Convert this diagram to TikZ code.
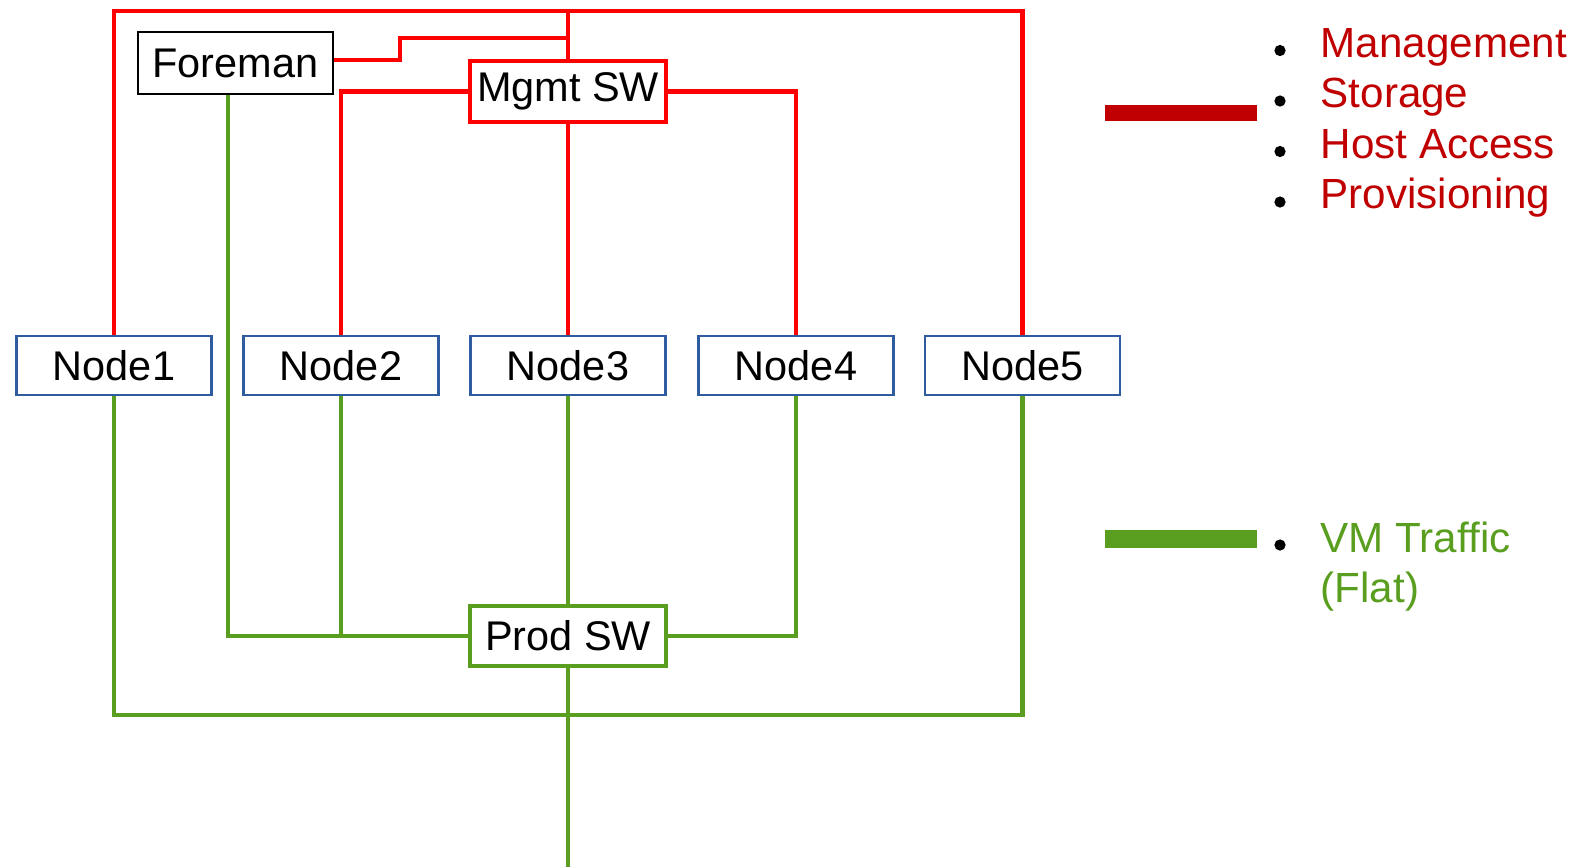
\documentclass[tikz,border=0pt]{standalone}
\usepackage{fontspec}
\setmainfont{Liberation Sans}
\usepackage{tikz}
\definecolor{mgmtred}{HTML}{FF0000}
\definecolor{legred}{HTML}{C00000}
\definecolor{vmgreen}{HTML}{5A9E1F}
\definecolor{nodeblue}{HTML}{2F5C9E}

\begin{document}
\begin{tikzpicture}[x=0.1mm, y=-0.1mm]
\tikzstyle{box} = [rectangle, inner sep = 0 pt, minimum width = 55.5 pt, minimum height = 16.8 pt, font = \fontsize{11.8}{14}\selectfont]
\tikzstyle{hostbox} = [box, draw = nodeblue, line width = 0.75 pt]
\tikzset{red link/.style={draw = mgmtred, line width = 1.15 pt}, green link/.style={draw = vmgreen, line width = 1.15 pt},
 legtext/.style={anchor = base west, inner sep = 0 pt, font = \fontsize{12}{14}\selectfont}}
\useasboundingbox (0,0) rectangle (1583,867);

% switches and the foreman host
\node [box, draw = black, line width = 0.65 pt, minimum height = 17.6 pt] (foreman) at (235.5,63) {Foreman};
\node [box, red link, minimum height = 17.3 pt] (mgmt) at (568,91.5) {Mgmt SW};
\node [box, green link, minimum height = 17 pt] (prod) at (568,636) {Prod SW};

% compute nodes
\foreach \x [count=\i] in {114, 341, 568, 796, 1022.5}
  \node [hostbox] (n\i) at (\x,365.5) {Node\i};

\coordinate (top) at (568,11);
\coordinate (fstep) at (400,38);
\coordinate (bottom) at (568,715);
\coordinate (uplink) at (568,867);

% management network
\draw [red link] (n1.north) |- (top) -| (n5.north);
\draw [red link] (mgmt.north) -- (top);
\draw [red link] (foreman.east |- 0,60) -| (fstep) -- (fstep -| top);
\draw [red link] (mgmt.west) -| (n2.north);
\draw [red link] (mgmt.east) -| (n4.north);
\draw [red link] (mgmt.south) -- (n3.north);

% vm traffic
\draw [green link] ([xshift=-2.1pt]foreman.south) |- (prod.west);
\draw [green link] (n2.south) -- (n2.south |- prod.west);
\draw [green link] (n3.south) -- (prod.north);
\draw [green link] (n4.south) |- (prod.east);
\draw [green link] (n1.south) |- (bottom) -| (n5.south);
\draw [green link] (prod.south) -- (uplink);

% legend
\draw [legred, line width = 4.6 pt] (1105,113) -- (1257,113);
\draw [vmgreen, line width = 5 pt] (1105,539) -- (1257,539);
\foreach \t [count=\i] in {Management, Storage, Host Access, Provisioning} {
  \node [legtext, text = legred] (leg\i) at (1320,{57+50.5*(\i-1)}) {\t};
  \fill (1280,{50.5+50.5*(\i-1)}) circle (1.6 pt);
}
\node [legtext, text = vmgreen] (vm1) at (1320,552) {VM Traffic};
\node [legtext, text = vmgreen] (vm2) at (1320,602) {(Flat)};
\fill (1280,545) circle (1.6 pt);

\end{tikzpicture}
\end{document}
